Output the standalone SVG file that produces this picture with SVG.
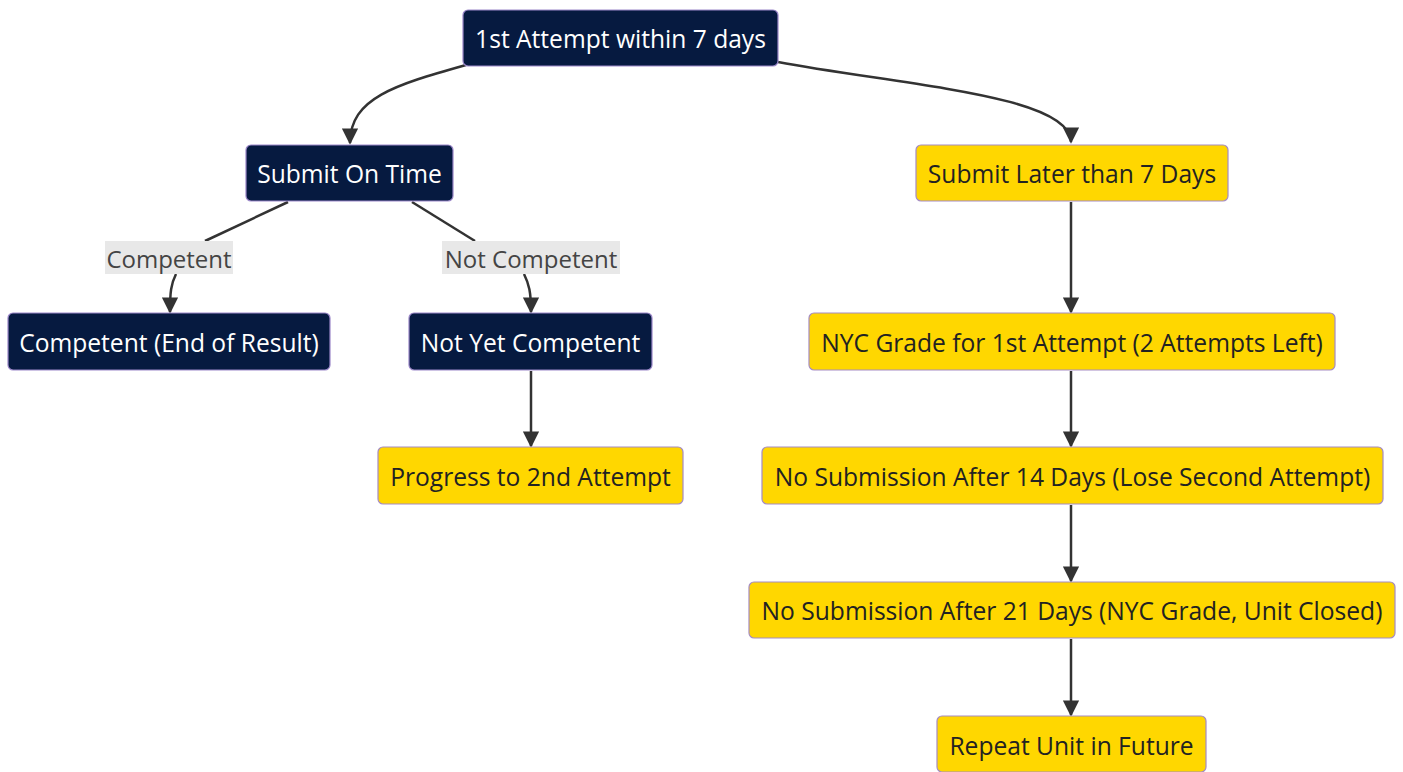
<svg xmlns="http://www.w3.org/2000/svg" width="1403" height="772" viewBox="0 0 1403 772">
<style>
.dark rect{fill:#061a40;stroke:#9b87c9;stroke-width:1.2}
.yel rect{fill:#ffd700;stroke:#a58bc4;stroke-width:1.2}
text{font-family:"Open Sans","Noto Sans",sans-serif;font-size:24.6px;text-anchor:middle;dominant-baseline:central}
.dark text{fill:#ffffff}
.yel text{fill:#222222}
.edge{fill:none;stroke:#333333;stroke-width:2.5}
.lblbg{fill:#e8e8e8}
.lbl{fill:#444444;font-size:24px}
</style>
<defs>
<marker id="arr" viewBox="0 0 10 10" refX="9" refY="5" markerWidth="6.5" markerHeight="6.5" markerUnits="strokeWidth" orient="auto">
<path d="M0,0 L10,5 L0,10 z" fill="#333333"/>
</marker>
</defs>
<rect width="1403" height="772" fill="#ffffff"/>
<g id="connectors">
<path class="edge" marker-end="url(#arr)" d="M466,65 C395,85 350,98 350,143"/>
<path class="edge" marker-end="url(#arr)" d="M778,62 C900,85 1071,95 1071,142"/>
<path class="edge" d="M288,202 L205,241"/>
<path class="edge" marker-end="url(#arr)" d="M176,274 C171,284 170,292 170,312"/>
<path class="edge" d="M412,202 L475,241"/>
<path class="edge" marker-end="url(#arr)" d="M524,274 C529,284 531,292 531,312"/>
<path class="edge" marker-end="url(#arr)" d="M531,371 L531,446"/>
<path class="edge" marker-end="url(#arr)" d="M1071,202 L1071,312"/>
<path class="edge" marker-end="url(#arr)" d="M1071,371 L1071,446"/>
<path class="edge" marker-end="url(#arr)" d="M1071,505 L1071,581"/>
<path class="edge" marker-end="url(#arr)" d="M1071,639 L1071,715"/>
</g>
<g id="label-competent">
<rect class="lblbg" x="105" y="241" width="128" height="33"/>
<text class="lbl" x="169" y="258">Competent</text>
</g>
<g id="label-notcompetent">
<rect class="lblbg" x="442" y="241" width="178" height="33"/>
<text class="lbl" x="531" y="258">Not Competent</text>
</g>
<g id="n1" class="dark"><rect x="463" y="10" width="315" height="56" rx="5"/><text x="620.5" y="38">1st Attempt within 7 days</text></g>
<g id="n2" class="dark"><rect x="246" y="145" width="207" height="56" rx="5"/><text x="349.5" y="173">Submit On Time</text></g>
<g id="n3" class="yel"><rect x="916" y="145" width="312" height="56" rx="5"/><text x="1072" y="173">Submit Later than 7 Days</text></g>
<g id="n4" class="dark"><rect x="8" y="313" width="322" height="57" rx="5"/><text x="169" y="342">Competent (End of Result)</text></g>
<g id="n5" class="dark"><rect x="409" y="313" width="243" height="57" rx="5"/><text x="530.5" y="342">Not Yet Competent</text></g>
<g id="n6" class="yel"><rect x="378" y="447" width="305" height="57" rx="5"/><text x="530.5" y="476">Progress to 2nd Attempt</text></g>
<g id="n7" class="yel"><rect x="809" y="313" width="526" height="57" rx="5"/><text x="1072" y="342">NYC Grade for 1st Attempt (2 Attempts Left)</text></g>
<g id="n8" class="yel"><rect x="762" y="447" width="621" height="57" rx="5"/><text x="1072.5" y="476">No Submission After 14 Days (Lose Second Attempt)</text></g>
<g id="n9" class="yel"><rect x="749" y="582" width="646" height="56" rx="5"/><text x="1072" y="610">No Submission After 21 Days (NYC Grade, Unit Closed)</text></g>
<g id="n10" class="yel"><rect x="937" y="716" width="269" height="56" rx="5"/><text x="1071.5" y="745">Repeat Unit in Future</text></g>
</svg>
